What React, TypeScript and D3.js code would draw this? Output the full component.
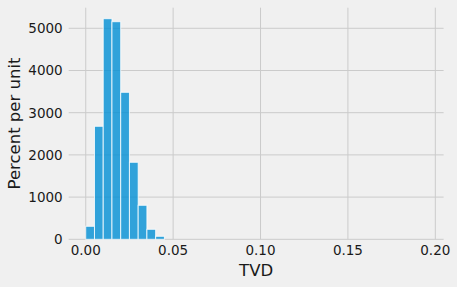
import React from "react";
import * as d3 from "d3";

const binEdges = [0, 0.005, 0.01, 0.015, 0.02, 0.025, 0.03, 0.035, 0.04, 0.045];
const binValues = [308, 2678, 5227, 5156, 3483, 1825, 806, 237, 71];
const xTicks = [0, 0.05, 0.1, 0.15, 0.2];
const yTicks = [0, 1000, 2000, 3000, 4000, 5000];
const xLabel = "TVD";
const yLabel = "Percent per unit";

const W = 457;
const H = 287;
const left = 68.7;
const right = 443.6;
const top = 7.7;
const bottom = 239.3;

export default function App() {
  const x = d3.scaleLinear().domain([-0.00975, 0.20475]).range([left, right]);
  const y = d3.scaleLinear().domain([0, 5488]).range([bottom, top]);
  const font = "DejaVu Sans, sans-serif";
  return (
    <svg width={W} height={H} style={{ position: "absolute", left: 0, top: 0 }}>
      <rect x={0} y={0} width={W} height={H} fill="#f0f0f0" />
      {xTicks.map((t) => (
        <line key={"gx" + t} x1={x(t)} x2={x(t)} y1={top} y2={bottom} stroke="#cbcbcb" strokeWidth={1} />
      ))}
      {yTicks.map((t) => (
        <line key={"gy" + t} x1={left} x2={right} y1={y(t)} y2={y(t)} stroke="#cbcbcb" strokeWidth={1} />
      ))}
      {binValues.map((v, i) => (
        <rect
          key={i}
          x={x(binEdges[i])}
          width={x(binEdges[i + 1]) - x(binEdges[i])}
          y={y(v)}
          height={y(0) - y(v)}
          fill="#008fd5"
          fillOpacity={0.8}
          stroke="#ffffff"
          strokeOpacity={0.8}
          strokeWidth={1}
        />
      ))}
      {xTicks.map((t) => (
        <text key={"tx" + t} x={x(t)} y={255} textAnchor="middle" fontFamily={font} fontSize={13.5} fill="#1a1a1a">
          {d3.format(".2f")(t)}
        </text>
      ))}
      {yTicks.map((t) => (
        <text key={"ty" + t} x={62.7} y={y(t)} dy="0.36em" textAnchor="end" fontFamily={font} fontSize={13.5} fill="#1a1a1a">
          {t}
        </text>
      ))}
      <text x={(left + right) / 2} y={276} textAnchor="middle" fontFamily={font} fontSize={16.5} fill="#1a1a1a">
        {xLabel}
      </text>
      <text
        transform={`translate(19.5, ${(top + bottom) / 2}) rotate(-90)`}
        textAnchor="middle"
        fontFamily={font}
        fontSize={16.5}
        fill="#1a1a1a"
      >
        {yLabel}
      </text>
    </svg>
  );
}
